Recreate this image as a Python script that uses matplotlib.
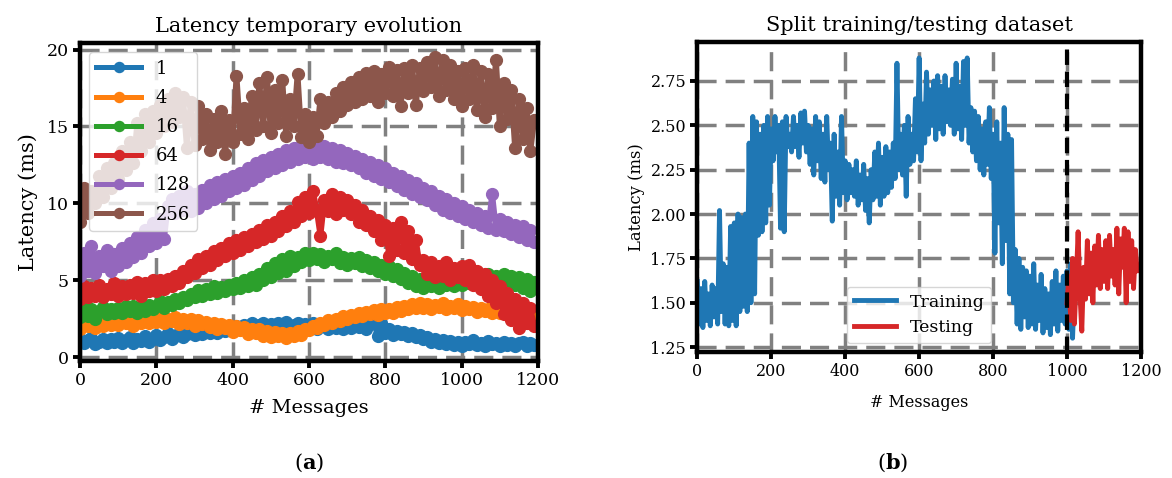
import numpy as np
import matplotlib
matplotlib.use('Agg')
import matplotlib.pyplot as plt

plt.rcParams['font.family'] = ['DejaVu Serif']
plt.rcParams['mathtext.fontset'] = 'dejavuserif'

##### datos del panel (a): latencia por tamano de mensaje, cada 10 mensajes #####
msg_a = np.arange(0, 1200, 10)
sizes = ['1', '4', '16', '64', '128', '256']

lat_1 = [1.2, 0.9, 1.1, 1.25, 0.85, 1.0, 1.2, 0.9, 1.15, 1.0,
         1.25, 0.95, 1.1, 1.3, 0.95, 1.2, 1.05, 1.35, 1.0, 1.2,
         1.45, 1.1, 1.3, 1.55, 1.2, 1.4, 1.6, 1.3, 1.5, 1.65,
         1.45, 1.7, 1.5, 1.75, 1.55, 1.8, 1.6, 1.85, 1.7, 1.9,
         1.75, 2.0, 1.85, 2.1, 1.9, 2.2, 1.95, 2.1, 2.25, 1.9,
         2.15, 1.95, 2.2, 2.0, 2.3, 1.95, 2.1, 2.25, 1.9, 2.15,
         1.95, 2.2, 1.85, 2.1, 2.0, 1.8, 2.15, 1.9, 2.05, 1.85,
         2.1, 1.9, 2.2, 1.95, 2.3, 1.85, 2.15, 2.3, 1.4, 2.2,
         1.6, 1.85, 1.45, 1.7, 1.5, 1.65, 1.35, 1.55, 1.3, 1.45,
         1.15, 1.3, 1.0, 1.2, 0.95, 1.1, 0.85, 1.05, 0.8, 1.0,
         0.75, 1.0, 0.85, 1.1, 0.8, 0.95, 0.7, 1.05, 0.85, 0.95,
         0.75, 1.0, 0.8, 0.95, 0.7, 0.9, 1.0, 0.75, 0.9, 0.8]

lat_4 = [1.85, 2.3, 2.0, 2.4, 1.9, 2.25, 2.05, 2.45, 2.1, 2.3,
         2.1, 2.5, 2.2, 2.4, 2.05, 2.55, 2.25, 2.45, 2.2, 2.6,
         2.3, 2.55, 2.2, 2.5, 2.35, 2.6, 2.15, 2.45, 2.25, 2.5,
         2.0, 2.4, 2.15, 2.3, 1.95, 2.25, 1.85, 2.15, 1.9, 2.1,
         1.65, 2.0, 1.75, 1.95, 1.5, 1.8, 1.6, 1.85, 1.4, 1.7,
         1.3, 1.65, 1.35, 1.6, 1.25, 1.55, 1.4, 1.7, 1.45, 1.8,
         1.75, 2.05, 1.9, 2.25, 2.1, 2.4, 2.2, 2.5, 2.35, 2.65,
         2.5, 2.75, 2.6, 2.85, 2.7, 2.95, 2.8, 3.05, 2.75, 3.1,
         2.9, 3.15, 2.85, 3.25, 3.0, 3.35, 3.1, 3.45, 3.2, 3.5,
         3.2, 3.45, 3.15, 3.4, 3.25, 3.5, 3.1, 3.35, 3.2, 3.45,
         3.05, 3.3, 3.1, 3.25, 2.95, 3.2, 3.0, 3.15, 2.9, 3.1,
         2.85, 3.05, 2.8, 3.0, 2.75, 2.95, 2.7, 2.9, 2.75, 2.85]

lat_16 = [2.6, 3.2, 2.7, 3.1, 2.5, 3.0, 3.25, 2.8, 3.1, 2.9,
          3.2, 2.85, 3.3, 3.0, 3.35, 2.9, 3.25, 3.0, 3.4, 3.1,
          3.3, 3.65, 3.2, 3.6, 3.4, 3.8, 3.5, 3.9, 3.7, 4.1,
          3.9, 4.35, 4.0, 4.45, 4.1, 4.6, 4.2, 4.55, 4.3, 4.7,
          4.4, 4.85, 4.5, 5.0, 4.6, 5.2, 4.7, 5.4, 5.0, 5.8,
          5.2, 6.1, 5.5, 6.4, 5.6, 6.6, 5.9, 6.5, 6.2, 6.75,
          6.3, 6.8, 6.4, 6.7, 6.2, 6.6, 6.35, 6.75, 6.1, 6.5,
          6.0, 6.45, 6.1, 6.5, 5.9, 6.3, 5.8, 6.2, 5.6, 6.0,
          5.4, 5.9, 5.3, 5.7, 5.1, 5.5, 4.8, 5.3, 4.6, 5.1,
          4.5, 5.0, 4.6, 4.95, 4.5, 5.1, 4.7, 5.2, 4.6, 5.0,
          4.7, 5.2, 4.8, 5.3, 4.9, 5.35, 5.0, 5.4, 4.9, 5.3,
          5.0, 5.4, 4.9, 5.3, 4.7, 5.2, 4.5, 5.1, 4.3, 4.9]

lat_64 = [3.8, 4.6, 3.9, 4.5, 4.0, 4.7, 3.9, 4.4, 4.1, 4.8,
          4.0, 4.6, 4.1, 4.7, 4.2, 4.9, 4.0, 4.8, 4.3, 5.0,
          4.3, 5.0, 4.4, 5.1, 4.6, 5.3, 4.8, 5.6, 5.2, 6.0,
          5.5, 6.4, 5.8, 6.6, 6.0, 6.9, 6.3, 7.1, 6.6, 7.4,
          6.8, 7.6, 7.0, 7.8, 7.2, 8.0, 7.5, 8.3, 7.7, 8.6,
          7.9, 8.8, 8.2, 9.2, 8.5, 9.5, 8.8, 10.1, 9.2, 10.4,
          9.4, 10.8, 9.6, 7.9, 10.2, 9.5, 10.6, 9.3, 10.4, 9.6,
          10.2, 9.3, 9.9, 8.8, 9.6, 8.6, 9.2, 8.2, 8.9, 7.6,
          8.6, 6.6, 8.4, 7.0, 8.8, 6.8, 8.2, 6.4, 7.6, 6.0,
          6.3, 5.4, 6.2, 5.2, 5.9, 5.3, 6.2, 5.0, 5.8, 5.2,
          5.9, 5.0, 6.0, 4.7, 5.6, 4.4, 5.4, 4.0, 5.0, 3.5,
          4.6, 2.8, 4.2, 2.4, 3.8, 1.9, 3.5, 2.2, 3.2, 2.0]

lat_128 = [5.3, 6.8, 5.6, 7.2, 5.5, 6.6, 5.9, 7.0, 5.6, 6.7,
           5.9, 7.1, 6.2, 7.4, 6.5, 7.8, 6.8, 8.3, 7.2, 8.7,
           7.4, 9.0, 7.7, 9.8, 10.3, 9.4, 10.5, 9.6, 10.8, 9.5,
           10.6, 9.7, 10.9, 10.0, 11.2, 10.3, 11.4, 10.5, 11.6, 10.8,
           11.8, 11.0, 12.0, 11.2, 12.3, 11.5, 12.6, 11.8, 12.8, 12.1,
           13.0, 12.3, 13.2, 12.5, 13.5, 12.7, 13.6, 12.9, 13.7, 13.0,
           13.6, 12.9, 13.8, 13.0, 13.7, 12.9, 13.6, 12.7, 13.5, 12.6,
           13.3, 12.5, 13.1, 12.3, 12.9, 12.0, 12.7, 11.8, 12.5, 11.6,
           12.3, 11.4, 12.0, 11.1, 11.8, 10.9, 11.5, 10.6, 11.3, 10.4,
           11.0, 10.2, 10.8, 9.9, 10.5, 9.6, 10.3, 9.4, 10.0, 9.2,
           9.8, 9.0, 9.6, 8.8, 9.4, 8.6, 9.2, 8.4, 10.6, 8.3,
           9.0, 8.2, 8.8, 8.0, 8.6, 7.8, 8.5, 7.6, 8.3, 7.5]

lat_256 = [8.8, 11.0, 9.4, 10.8, 10.0, 11.8, 10.4, 12.3, 11.0, 12.6,
           11.6, 13.4, 12.2, 14.0, 12.6, 15.2, 13.4, 15.8, 14.0, 16.0,
           14.6, 16.4, 15.0, 16.8, 15.3, 17.2, 15.6, 16.9, 13.6, 16.6,
           13.8, 16.3, 14.2, 15.8, 13.5, 15.5, 14.0, 16.0, 13.2, 15.4,
           14.0, 18.3, 14.5, 16.2, 14.2, 17.0, 14.8, 17.8, 15.0, 18.2,
           14.6, 17.4, 15.2, 18.0, 14.4, 16.8, 15.0, 18.4, 14.3, 15.8,
           14.0, 15.6, 14.4, 16.8, 15.2, 16.6, 15.6, 17.2, 16.0, 17.6,
           16.4, 17.9, 16.6, 18.2, 16.8, 18.5, 17.0, 18.6, 16.6, 18.4,
           17.2, 18.9, 17.0, 18.7, 16.3, 18.8, 17.2, 19.0, 16.4, 18.8,
           17.3, 19.2, 17.6, 19.5, 17.0, 19.3, 17.4, 19.0, 16.8, 18.6,
           16.3, 18.8, 16.8, 19.0, 16.1, 18.6, 15.6, 18.4, 16.2, 19.3,
           15.0, 17.8, 15.5, 17.4, 13.6, 16.8, 14.2, 16.2, 13.4, 15.4]

##### datos del panel (b): serie de entrenamiento y prueba, cada 5 mensajes #####
msg_train = np.arange(0, 1025, 5)
lat_train = [1.62, 1.38, 1.58, 1.36, 1.62, 1.40, 1.55, 1.37, 1.60, 1.42,
             1.58, 1.38, 2.02, 1.45, 1.72, 1.38, 1.70, 1.37, 1.93, 1.40,
             1.95, 1.37, 2.00, 1.45, 1.98, 1.48, 2.00, 1.45, 2.40, 1.50,
             2.55, 1.55, 2.52, 1.88, 2.45, 1.90, 2.50, 1.95, 2.55, 2.05,
             2.48, 2.30, 2.55, 2.35, 2.50, 1.92, 2.52, 1.90, 2.55, 2.38,
             2.45, 2.35, 2.55, 2.38, 2.50, 2.32, 2.57, 2.40, 2.58, 2.35,
             2.50, 2.28, 2.48, 2.22, 2.55, 2.30, 2.52, 2.20, 2.45, 2.18,
             2.55, 2.25, 2.40, 1.96, 2.45, 2.10, 2.35, 2.05, 2.55, 2.12,
             2.30, 2.08, 2.28, 2.12, 2.25, 2.10, 2.30, 2.05, 2.22, 2.08,
             2.28, 2.02, 2.20, 1.95, 2.25, 2.08, 2.35, 2.10, 2.40, 2.05,
             2.32, 2.10, 2.38, 2.12, 2.35, 2.15, 2.40, 2.20, 2.85, 2.25,
             2.45, 2.22, 2.50, 2.10, 2.55, 2.28, 2.45, 2.30, 2.65, 2.35,
             2.88, 2.30, 2.62, 2.40, 2.80, 2.45, 2.70, 2.50, 2.75, 2.42,
             2.78, 2.48, 2.72, 2.45, 2.78, 2.52, 2.70, 2.50, 2.76, 2.45,
             2.85, 2.48, 2.72, 2.42, 2.86, 2.50, 2.88, 2.40, 2.60, 2.35,
             2.58, 2.30, 2.55, 2.25, 2.48, 2.22, 2.52, 2.28, 2.60, 2.20,
             2.45, 1.78, 2.52, 1.95, 2.40, 1.72, 2.60, 1.85, 2.45, 1.55,
             2.42, 1.50, 1.80, 1.38, 1.75, 1.35, 1.70, 1.42, 1.68, 1.36,
             1.65, 1.38, 1.72, 1.35, 1.60, 1.40, 1.66, 1.33, 1.58, 1.36,
             1.55, 1.32, 1.62, 1.38, 1.68, 1.34, 1.60, 1.40, 1.65, 1.38,
             1.68, 1.35, 1.72, 1.30, 1.58]

msg_test = np.arange(1000, 1195, 5)
lat_test = [1.50, 1.65, 1.40, 1.75, 1.38, 1.62, 1.90, 1.55, 1.34, 1.70,
            1.52, 1.85, 1.55, 1.78, 1.50, 1.82, 1.60, 1.88, 1.58, 1.80,
            1.62, 1.85, 1.58, 1.88, 1.65, 1.80, 1.60, 1.92, 1.55, 1.86,
            1.70, 1.92, 1.50, 1.90, 1.62, 1.85, 1.58, 1.80, 1.68]

split_at = 1000

# estilo comun de la grilla y los ejes
grid_kw = dict(color='#808080', linewidth=2.5, linestyle=(0, (5.5, 2.6)))

def estilo(ax, fs_ticks):
	for s in ax.spines.values():
		s.set_linewidth(3.2)
	ax.tick_params(axis='both', which='major', length=5, width=2.8,
	               labelsize=fs_ticks, pad=3)
	ax.grid(True, **grid_kw)
	ax.set_axisbelow(True)

fig = plt.figure(figsize=(11.72, 4.78), dpi=100)

##### Panel (a) #####
ax1 = fig.add_axes([0.0683, 0.2448, 0.3907, 0.6643])
series = [lat_1, lat_4, lat_16, lat_64, lat_128, lat_256]
colores = ['#1f77b4', '#ff7f0e', '#2ca02c', '#d62728', '#9467bd', '#8c564b']
for lab, ys, c in zip(sizes, series, colores):
	ax1.plot(msg_a, ys, '-o', color=c, lw=4.2, markersize=8.5, label=lab)
ax1.set_xlim(0, 1200)
ax1.set_ylim(-0.25, 20.4)
ax1.set_xticks(np.arange(0, 1201, 200))
ax1.set_yticks([0, 5, 10, 15, 20])
estilo(ax1, 12.5)
ax1.set_title('Latency temporary evolution', fontsize=15, pad=8)
ax1.set_xlabel('# Messages', fontsize=14, labelpad=7)
ax1.set_ylabel('Latency (ms)', fontsize=15, labelpad=6)
leg1 = ax1.legend(loc='upper left', fontsize=13, handlelength=2.5,
                  borderaxespad=0.5, markerscale=0.85, labelspacing=0.62)
for h in leg1.get_lines():
	h.set_linewidth(3.6)

##### Panel (b) #####
ax2 = fig.add_axes([0.595, 0.264, 0.3785, 0.6475])
ax2.plot(msg_train, lat_train, color='#1f77b4', lw=3.5, label='Training')
ax2.plot(msg_test, lat_test, color='#d62728', lw=3.5, label='Testing')
ax2.axvline(split_at, color='black', lw=3, linestyle='--')
ax2.set_xlim(0, 1200)
ax2.set_ylim(1.2235, 2.968)
ax2.set_xticks(np.arange(0, 1201, 200))
ax2.set_yticks([1.25, 1.50, 1.75, 2.00, 2.25, 2.50, 2.75])
ax2.yaxis.set_major_formatter(matplotlib.ticker.FormatStrFormatter('%.2f'))
estilo(ax2, 11.5)
ax2.set_title('Split training/testing dataset', fontsize=15, pad=8)
ax2.set_xlabel('# Messages', fontsize=11.5, labelpad=10)
ax2.set_ylabel('Latency (ms)', fontsize=11.8, labelpad=4)
ax2.legend(loc='lower center', fontsize=12.5, handlelength=2.4)

fig.text(0.2637, 0.031, r'($\mathbf{a}$)', ha='center', va='center', fontsize=15)
fig.text(0.762, 0.031, r'($\mathbf{b}$)', ha='center', va='center', fontsize=15)

fig.savefig('out.png', dpi=100)
